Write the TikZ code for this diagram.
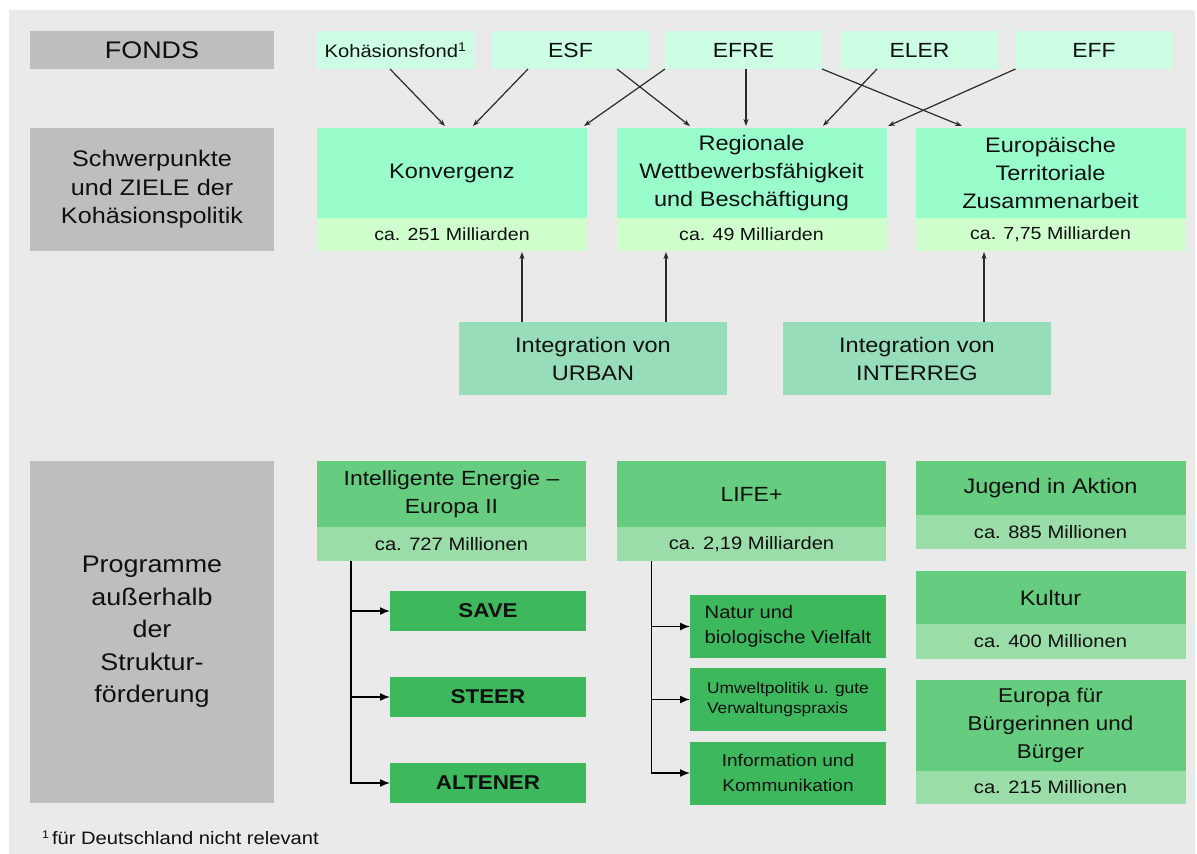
\documentclass[tikz,border=0pt]{standalone}
\usepackage{fontspec}
\setmainfont{Liberation Sans}[FakeStretch=1.12]
\usetikzlibrary{arrows.meta,calc}
\definecolor{bg}{HTML}{EAEAEA}
\definecolor{lab}{HTML}{BEBEBE}
\definecolor{fund}{HTML}{CCFFE4}
\definecolor{goal}{HTML}{99FCCB}
\definecolor{goalA}{HTML}{CFFFCC}
\definecolor{integ}{HTML}{97DDB9}
\definecolor{prog}{HTML}{66CC80}
\definecolor{progA}{HTML}{9ADDA8}
\definecolor{sub}{HTML}{3DB85C}
\definecolor{txt}{HTML}{101010}
\definecolor{arrc}{HTML}{2A2A2A}
\newcommand\fsz[2]{\fontsize{#1}{#2}\selectfont}
\begin{document}
\begin{tikzpicture}[x=1pt,y=-1pt,
  bx/.style n args={3}{inner sep=0pt, outer sep=0pt, text=txt, align=center,
     minimum width=#1, minimum height=#2, fill=#3, font=\fsz{21}{28}},
  arr/.style={draw=arrc, line width=1.2pt, -{Stealth[length=7pt,width=5pt]}},
  tree/.style={draw=black, line width=1.5pt, -{Latex[length=10pt,width=8pt]}}]
\path[use as bounding box] (0,0) rectangle (1197,854);
\fill[white] (0,0) rectangle (1197,854);
\fill[bg] (9,10) rectangle (1195,854);

% left labels
\node[bx={244}{38}{lab}, font=\fsz{24}{28}] (fonds) at (152,50) {FONDS};
\node[bx={244}{123}{lab}, font=\fsz{22.5}{28.5}] (schwer) at (152,189.5) {Schwerpunkte\\und ZIELE der\\Kohäsionspolitik};
\node[bx={244}{342}{lab}, font=\fsz{24}{32.5}] (progl) at (152,632) {Programme\\außerhalb\\der\\Struktur-\\förderung};

% funds
\node[bx={157}{38}{fund}, font=\fsz{18}{22}] (koh) at (395.5,50) {Kohäsionsfond\textsuperscript{1}};
\node[bx={157}{38}{fund}, font=\fsz{20.5}{24}] (esf) at (570.5,50) {ESF};
\node[bx={157}{38}{fund}, font=\fsz{20.5}{24}] (efre) at (743.5,50) {EFRE};
\node[bx={157}{38}{fund}, font=\fsz{20.5}{24}] (eler) at (919.5,50) {ELER};
\node[bx={157}{38}{fund}, font=\fsz{20.5}{24}] (eff) at (1094,50) {EFF};

% goals
\node[bx={270}{90}{goal}] (konv) at (452,173) {Konvergenz};
\node[bx={270}{33}{goalA}, font=\fsz{17.5}{21}] (konvA) at (452,234.5) {ca. 251 Milliarden};
\node[bx={270}{90}{goal}] (reg) at (751.5,173) {Regionale\\Wettbewerbsfähigkeit\\und Beschäftigung};
\node[bx={270}{33}{goalA}, font=\fsz{17.5}{21}] (regA) at (751.5,234.5) {ca. 49 Milliarden};
\node[bx={270}{90}{goal}] (eur) at (1050.5,173) {Europäische\\Territoriale\\Zusammenarbeit};
\node[bx={270}{33}{goalA}, font=\fsz{17.5}{21}] (eurA) at (1050.5,234.5) {ca. 7,75 Milliarden};

% integration
\node[bx={268}{73}{integ}] (urban) at (593,358.5) {Integration von\\URBAN};
\node[bx={268}{73}{integ}] (interreg) at (917,358.5) {Integration von\\INTERREG};

% arrows funds -> goals
\draw[arr] ($(koh.south)+(-5.5,0)$) -- ($(konv.north)+(-7,-2)$);
\draw[arr] ($(esf.south)+(-42.5,0)$) -- ($(konv.north)+(21,-2)$);
\draw[arr] (efre.south west) -- ($(konv.north east)+(-3,-2)$);
\draw[arr] ($(esf.south)+(46.5,0)$) -- ($(reg.north)+(-61.5,-2)$);
\coordinate (e5) at ($(efre.south)+(2.5,0)$);
\draw[arr] (e5) -- ($(e5 |- reg.north)+(0,-2)$);
\draw[arr] ($(eler.south)+(-42.5,0)$) -- ($(reg.north)+(71.5,-2)$);
\draw[arr] (efre.south east) -- ($(eur.north)+(-88.5,-2)$);
\draw[arr] (eff.south west) -- ($(reg.north east)+(1.5,-2)$);

% integration arrows
\coordinate (u1) at ($(urban.north)+(-71,0)$);
\coordinate (u2) at ($(urban.north)+(73,0)$);
\coordinate (i1) at ($(interreg.north)+(67,0)$);
\draw[arr] (u1) -- ($(u1 |- konvA.south)+(0,1)$);
\draw[arr] (u2) -- ($(u2 |- regA.south)+(0,1)$);
\draw[arr] (i1) -- ($(i1 |- eurA.south)+(0,1)$);

% programmes
\node[bx={269}{66}{prog}, font=\fsz{20.5}{28.5}] (iee) at (451.5,494) {Intelligente Energie –\\Europa II};
\node[bx={269}{34}{progA}, font=\fsz{18}{22}] (ieeA) at (451.5,544) {ca. 727 Millionen};
\node[bx={196}{40}{sub}, font=\bfseries\fsz{20}{24}] (save) at (488,611) {SAVE};
\node[bx={196}{40}{sub}, font=\bfseries\fsz{20}{24}] (steer) at (488,697) {STEER};
\node[bx={196}{40}{sub}, font=\bfseries\fsz{20}{24}] (altener) at (488,783) {ALTENER};

\node[bx={269}{66}{prog}, font=\fsz{20.5}{28}] (life) at (751.5,494) {LIFE+};
\node[bx={269}{34}{progA}, font=\fsz{18}{22}] (lifeA) at (751.5,544) {ca. 2,19 Milliarden};
\node[bx={196}{63}{sub}, font=\fsz{18}{25}, align=left] (natur) at (788,626.5) {Natur und\\biologische Vielfalt};
\node[bx={196}{63}{sub}, font=\fsz{15.5}{20}, align=left] (umwelt) at (788,699.5) {Umweltpolitik u. gute\\Verwaltungspraxis};
\node[bx={196}{63}{sub}, font=\fsz{17}{25}] (info) at (788,773) {Information und\\Kommunikation};

\node[bx={270}{54}{prog}] (jugend) at (1050.5,488) {Jugend in Aktion};
\node[bx={270}{34}{progA}, font=\fsz{18}{22}] (jugendA) at (1050.5,532) {ca. 885 Millionen};
\node[bx={270}{53}{prog}] (kultur) at (1050.5,597.5) {Kultur};
\node[bx={270}{35}{progA}, font=\fsz{18}{22}] (kulturA) at (1050.5,641.5) {ca. 400 Millionen};
\node[bx={270}{91}{prog}, font=\fsz{20}{28}] (europa) at (1050.5,725.5) {Europa für\\Bürgerinnen und\\Bürger};
\node[bx={270}{33}{progA}, font=\fsz{18}{22}] (europaA) at (1050.5,787.5) {ca. 215 Millionen};

% trees
\coordinate (t1) at ($(ieeA.south)+(-100.5,0)$);
\draw[tree] (t1) |- (altener.west);
\draw[tree] (t1 |- save.west) -- (save.west);
\draw[tree] (t1 |- steer.west) -- (steer.west);
\coordinate (t2) at ($(lifeA.south)+(-100,0)$);
\draw[tree] (t2) |- (info.west);
\draw[tree] (t2 |- natur.west) -- (natur.west);
\draw[tree] (t2 |- umwelt.west) -- (umwelt.west);

% footnote
\node[anchor=base west, inner sep=0pt, text=txt, font=\fsz{18}{22}] (fn) at (42,844) {{\fsz{11}{13}\raisebox{6pt}{1}}\,für Deutschland nicht relevant};
\end{tikzpicture}
\end{document}
